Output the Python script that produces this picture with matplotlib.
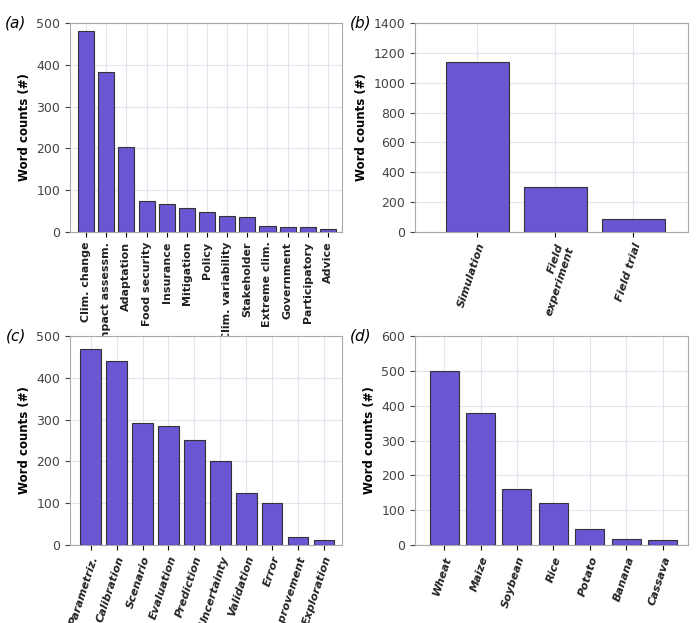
import matplotlib
matplotlib.use("Agg")
import matplotlib.pyplot as plt

a_cats = ["Clim. change", "Impact assessm.", "Adaptation", "Food security", "Insurance", "Mitigation",
          "Policy", "Clim. variability", "Stakeholder", "Extreme clim.", "Government", "Participatory", "Advice"]
a_vals = [482, 383, 204, 75, 67, 58, 47, 38, 37, 15, 12, 11, 8]
b_cats = ["Simulation", "Field\nexperiment", "Field trial"]
b_vals = [1140, 300, 90]
c_cats = ["Parametriz.", "Calibration", "Scenario", "Evaluation", "Prediction", "Uncertainty",
          "Validation", "Error", "Improvement", "Exploration"]
c_vals = [470, 440, 292, 284, 251, 202, 124, 100, 18, 12]
d_cats = ["Wheat", "Maize", "Soybean", "Rice", "Potato", "Banana", "Cassava"]
d_vals = [500, 378, 160, 120, 45, 18, 15]

W, H = 700, 623
fig = plt.figure(figsize=(W/100, H/100), dpi=100)

def ax_at(x0, y0, x1, y1):
    return fig.add_axes([x0/W, 1-y1/H, (x1-x0)/W, (y1-y0)/H])

panels = [
    ("(a)", a_cats, a_vals, 500, 100, 90, (70, 23, 342, 232)),
    ("(b)", b_cats, b_vals, 1400, 200, 72, (415, 23, 688, 232)),
    ("(c)", c_cats, c_vals, 500, 100, 72, (70, 336, 342, 545)),
    ("(d)", d_cats, d_vals, 600, 100, 72, (415, 336, 688, 545)),
]
for lab, cats, vals, ymax, step, rot, box in panels:
    ax = ax_at(*box)
    ax.bar(range(len(cats)), vals, color="#6a55d2", edgecolor="#333333", linewidth=0.8, zorder=3)
    ax.set_ylim(0, ymax)
    ax.set_yticks(range(0, ymax+1, step))
    ax.set_xlim(-0.8, len(cats)-0.3)
    ax.set_xticks(range(len(cats)))
    if rot == 90:
        ax.set_xticklabels(cats, rotation=90, fontsize=8, fontweight="bold", color="#222222")
    else:
        ax.set_xticklabels(cats, rotation=rot, ha="right", rotation_mode="anchor",
                           fontsize=8, fontweight="bold", fontstyle="italic", color="#222222")
    ax.tick_params(axis="y", labelsize=9, colors="#444444")
    ax.grid(True, color="#e4e4ee", linewidth=0.8, zorder=0)
    for s in ax.spines.values():
        s.set_color("#aaaaaa")
    ax.set_ylabel("Word counts (#)", fontsize=8.5, fontweight="bold")
    ax.text(-0.16, 1.0, lab, transform=ax.transAxes, fontsize=11, fontstyle="italic",
            ha="right", va="center")

fig.savefig("out.png", dpi=100)
